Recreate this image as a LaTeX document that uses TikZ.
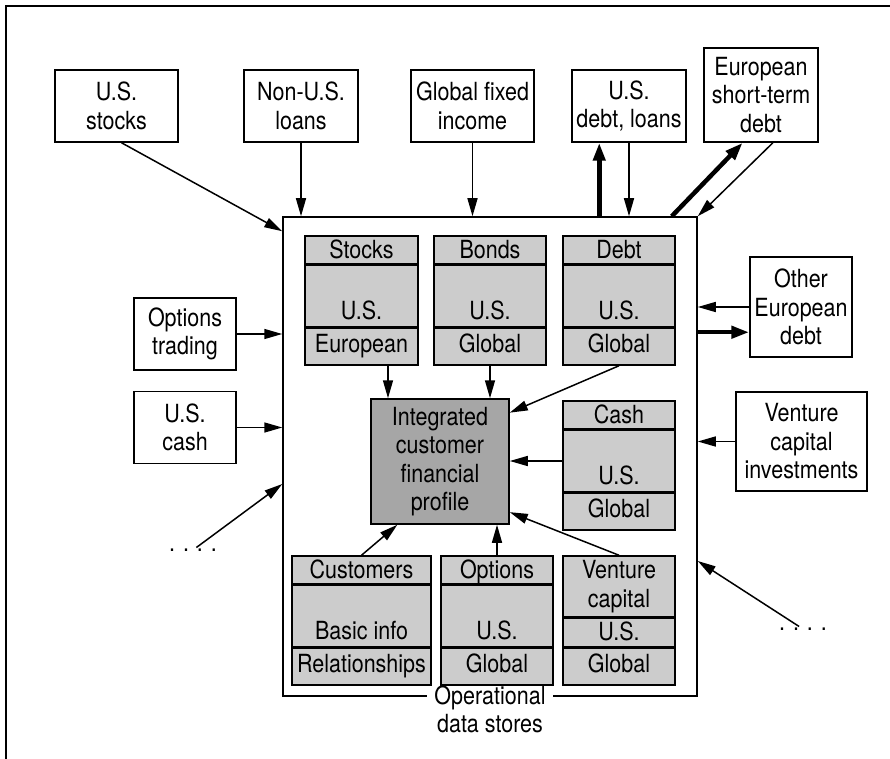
\documentclass[tikz,border=0pt]{standalone}
\usepackage{fontspec}
\setmainfont{TeX Gyre Heros}[FakeStretch=0.86]
\usetikzlibrary{positioning,arrows.meta}
\definecolor{storegray}{gray}{0.8}
\definecolor{profilegray}{gray}{0.65}

\begin{document}
\begin{tikzpicture}[
x=1pt, y=-1pt,
every node/.style={font=\fontsize{25}{28.5}\selectfont},
box/.style={draw, line width=1.5pt, align=center, inner sep=0pt},
cell/.style={draw, fill=storegray, line width=1.5pt, inner sep=0pt, minimum width=112pt},
head/.style={cell, minimum height=28pt, text height=18pt, text depth=2pt},
mid/.style={cell, minimum height=61pt, text height=54pt, text depth=7pt},
foot/.style={cell, minimum height=37pt, text height=17pt, text depth=5pt},
arr/.style={-{Triangle[length=18pt,width=10pt]}, line width=1.5pt},
thickarr/.style={-{Triangle[length=18pt,width=12pt]}, line width=4.5pt},
dots/.style={inner sep=1pt}
]
\useasboundingbox (0,0) rectangle (890,759);
\draw[line width=1.2pt] (6,760) |- (891,6);

% operational data stores
\node[draw, line width=1.5pt, minimum width=414pt, minimum height=479pt] (ods) at (490,456.5) {};
\node[fill=white, inner xsep=7pt, inner ysep=1pt, align=center] (odslabel) at ([yshift=-12.5pt]ods.south) {Operational\\data stores};

\node[head, minimum width=113pt] (stocksh) at (361.5,250) {Stocks};
\node[mid, minimum width=113pt, below=0pt of stocksh] (stocksm) {U.S.};
\node[foot, minimum width=113pt, below=0pt of stocksm] (stocksf) {European};
\node[head] (bondsh) at (490,250) {Bonds};
\node[mid, below=0pt of bondsh] (bondsm) {U.S.};
\node[foot, below=0pt of bondsm] (bondsf) {Global};
\node[head] (debth) at (619,250) {Debt};
\node[mid, below=0pt of debth] (debtm) {U.S.};
\node[foot, below=0pt of debtm] (debtf) {Global};
\node[head] (cashh) at (619,415) {Cash};
\node[mid, below=0pt of cashh] (cashm) {U.S.};
\node[foot, below=0pt of cashm] (cashf) {Global};
\node[head, minimum width=139pt] (custh) at (361.5,570) {Customers};
\node[mid, minimum width=139pt, below=0pt of custh] (custm) {Basic info};
\node[foot, minimum width=139pt, below=0pt of custm] (custf) {Relationships};
\node[head] (opth) at (497,570) {Options};
\node[mid, below=0pt of opth] (optm) {U.S.};
\node[foot, below=0pt of optm] (optf) {Global};
\node[cell, minimum height=61pt, align=center] (vch) at (619,586.5) {Venture\\capital};
\node[head, below=0pt of vch] (vcm) {U.S.};
\node[foot, below=0pt of vcm] (vcf) {Global};

\node[draw, fill=profilegray, line width=1.5pt, inner sep=0pt, align=center,
  minimum width=138pt, minimum height=125pt] (integ) at (440,461.5) {Integrated\\customer\\financial\\profile};

% sources
\node[box, minimum width=123pt, minimum height=72pt] (usstocks) at (116.5,106) {U.S.\\stocks};
\node[box, minimum width=114pt, minimum height=72pt] (nonusloans) at (301,106) {Non-U.S.\\loans};
\node[box, minimum width=123pt, minimum height=72pt] (globalfixed) at (472.5,106) {Global fixed\\income};
\node[box, minimum width=114pt, minimum height=72pt] (usdebt) at (629,106) {U.S.\\debt, loans};
\node[box, minimum width=114pt, minimum height=94pt] (eushort) at (761,95) {European\\short-term\\debt};
\node[box, minimum width=102pt, minimum height=72pt] (opttrading) at (185,334) {Options\\trading};
\node[box, minimum width=102pt, minimum height=72pt] (uscash) at (185,427.5) {U.S.\\cash};
\node[box, minimum width=102pt, minimum height=100pt] (othereu) at (801,307) {Other\\European\\debt};
\node[box, minimum width=131pt, minimum height=99pt] (vcinv) at (801.5,441.5) {Venture\\capital\\investments};
\node[dots] (dotsl) at (193,550) {. . . .};
\node[dots] (dotsr) at (803,629) {. . . .};

\draw[arr] ([xshift=5pt]usstocks.south) -- ([yshift=-15pt]ods.north west);
\draw[arr] (nonusloans) -- (nonusloans |- ods.north);
\draw[arr] (globalfixed) -- (globalfixed |- ods.north);
\draw[thickarr] (usdebt.231 |- ods.north) -- (usdebt.231);
\draw[arr] (usdebt) -- (usdebt |- ods.north);
\draw[thickarr] ([xshift=-26pt]ods.north east) -- (eushort.249);
\draw[arr] (eushort.284) -- (ods.north east);
\draw[arr] (opttrading) -- (opttrading -| ods.west);
\draw[arr] (uscash) -- (uscash -| ods.west);
\draw[arr] (dotsl) -- ([yshift=-27.5pt]ods.west);
\draw[arr] (othereu) -- (othereu -| ods.east);
\draw[thickarr] (ods.east |- othereu.206) -- (othereu.206);
\draw[arr] (vcinv) -- (vcinv -| ods.east);
\draw[arr] (dotsr) -- ([yshift=-104.5pt]ods.east);

\draw[arr] (stocksf.324) -- (stocksf.324 |- integ.north);
\draw[arr] (bondsf) -- (bondsf |- integ.north);
\draw[arr] (debtf.south) -- (integ.35);
\draw[arr] (cashm) -- (cashm -| integ.east);
\draw[arr] (custh.north) -- (integ.236);
\draw[arr] (opth) -- (opth |- integ.south);
\draw[arr] (vch.north) -- (integ.324);
\end{tikzpicture}
\end{document}
